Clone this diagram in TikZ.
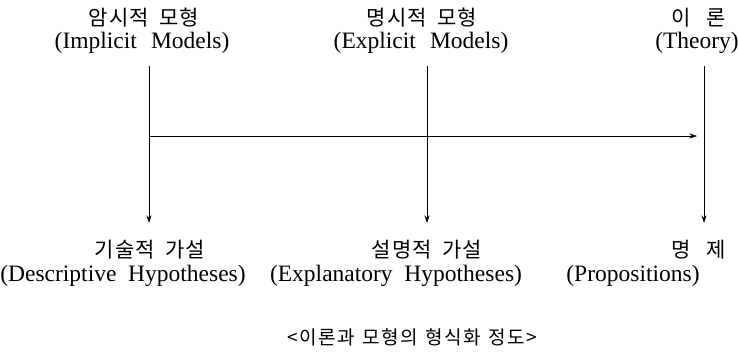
\documentclass[tikz,border=0pt]{standalone}
\usepackage{fontspec}
\setmainfont{Liberation Serif}
\newfontfamily\kr[LetterSpace=5]{Noto Sans CJK KR}
\newfontfamily\krcap[LetterSpace=8]{Noto Sans CJK KR}
\usetikzlibrary{arrows.meta, positioning}

\begin{document}
\begin{tikzpicture}[x=1pt, y=-1pt,
    kor/.style={font=\kr\fontsize{21}{23}\selectfont, inner sep=0pt},
    eng/.style={font=\fontsize{23.5}{25}\selectfont, inner sep=0pt},
    captxt/.style={font=\krcap\fontsize{19}{21}\selectfont, inner sep=0pt},
    arr/.style={black, line width=0.8pt, -{Stealth[length=7.5pt, width=5pt]}}]
    \useasboundingbox (0,0) rectangle (738,359);
    % top row
    \node[kor] (K1) at (144,18) {암시적\hspace{0.5em}모형};
    \node[eng] (E1) at (142,43) {(Implicit\hspace{0.6em}Models)};
    \node[kor] (K2) at (422,18) {명시적\hspace{0.5em}모형};
    \node[eng] (E2) at (421,43) {(Explicit\hspace{0.6em}Models)};
    \node[kor] (K3) at (699,18) {이\hspace{16pt}론};
    \node[eng] (E3) at (697,43) {(Theory)};
    % bottom row
    \node[kor] (K4) at (150,250) {기술적\hspace{0.5em}가설};
    \node[eng] (E4) at (123,276) {(Descriptive\hspace{0.5em}Hypotheses)};
    \node[kor] (K5) at (427,250) {설명적\hspace{0.5em}가설};
    \node[eng] (E5) at (396,276) {(Explanatory\hspace{0.5em}Hypotheses)};
    \node[kor] (K6) at (699,250) {명\hspace{16pt}제};
    \node[eng] (E6) at (633,276) {(Propositions)};
    \node[captxt] (C) at (412,337) {<이론과\hspace{0.4em}모형의\hspace{0.4em}형식화\hspace{0.4em}정도>};
    % line ends
    \coordinate (T1) at (149,66);
    \coordinate (B1) at (149,223);
    \coordinate (T2) at (427,66);
    \coordinate (B2) at (427,223);
    \coordinate (T3) at (704,66);
    \coordinate (B3) at (704,223);
    \coordinate (H1) at (149,136);
    \coordinate (H2) at (697,136);
    \foreach \i in {1,2,3} {
        \draw[arr] (T\i) -- (B\i);
    }
    \draw[arr] (H1) -- (H2);
\end{tikzpicture}
\end{document}
